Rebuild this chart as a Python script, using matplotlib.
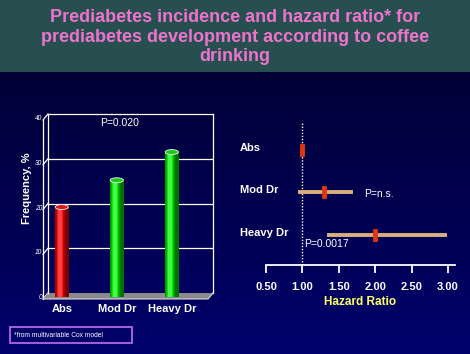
import numpy as np
import matplotlib
matplotlib.use("Agg")
import matplotlib.pyplot as plt
from matplotlib.patches import Rectangle, Ellipse, Polygon

plt.rcParams['font.family'] = ['Liberation Sans', 'DejaVu Sans']

# ---- data ----
bar_categories = ["Abs", "Mod Dr", "Heavy Dr"]
bar_values = [19.2, 25.2, 31.5]
bar_colors = ["#e00000", "#00d000", "#00d000"]
bar_yticks = [0, 10, 20, 30, 40]

hr_categories = ["Abs", "Mod Dr", "Heavy Dr"]
hr_point = [1.0, 1.3, 2.0]
hr_low = [1.0, 0.94, 1.34]
hr_high = [1.0, 1.69, 2.98]
hr_xticks = [0.5, 1.0, 1.5, 2.0, 2.5, 3.0]
hr_xticklabels = ["0.50", "1.00", "1.50", "2.00", "2.50", "3.00"]

W, H = 470, 354
fig = plt.figure(figsize=(W / 100, H / 100), dpi=100)

def fx(x):
    return x / W

def fy(y):
    return 1 - y / H

# ---- background ----
bg = fig.add_axes([0, 0, 1, 1], zorder=-10)
bg.set_xlim(0, W)
bg.set_ylim(H, 0)
bg.axis("off")
grad = np.linspace(0, 1, 256).reshape(-1, 1)
c0 = np.array([0x00, 0x00, 0x36]) / 255
c1 = np.array([0x00, 0x00, 0x6c]) / 255
img = c0 + (c1 - c0) * grad[..., None]
img = np.repeat(img, 2, axis=1)
bg.imshow(img, extent=[0, W, H, 72], aspect="auto", interpolation="bilinear")
bg.add_patch(Rectangle((0, 0), W, 72, color="#274f4f", lw=0))
bg.set_xlim(0, W)
bg.set_ylim(H, 0)

fig.text(0.5, fy(37), "Prediabetes incidence and hazard ratio* for\nprediabetes development according to coffee\ndrinking",
         ha="center", va="center", color="#ec74cc", fontsize=13, fontweight="bold", linespacing=1.22)

# footnote box
bg.add_patch(Rectangle((10, 327), 122, 16, fill=False, ec="#c070f0", lw=1.2))
bg.text(14, 335.5, "*from multivariable Cox model", color="white", fontsize=4.8, va="center", ha="left")

# ---- bar chart ----
ax1 = fig.add_axes([fx(48), fy(293), 165 / W, 179 / H])
ax1.set_xlim(-0.25, 2.75)
ax1.set_ylim(0, 40)
ax1.patch.set_alpha(0)
for s in ["top", "right", "left"]:
    ax1.spines[s].set_color("white")
    ax1.spines[s].set_linewidth(0.9)
ax1.spines["bottom"].set_visible(False)
ax1.set_xticks([])
ax1.set_yticks([])

dx, dy = -0.09, -1.34
for v in bar_yticks:
    if 0 < v < 40:
        ax1.plot([-0.25, 2.75], [v, v], color="white", lw=0.9, zorder=1)
    ax1.plot([-0.25 + dx, -0.25], [v + dy, v], color="white", lw=0.9, clip_on=False, zorder=1)
    ax1.text(-0.25 + dx - 0.02, v + dy + 0.3, str(v), color="white", fontsize=4.8,
             ha="right", va="center", fontstyle="italic")
ax1.plot([-0.25 + dx, -0.25 + dx], [dy, 40 + dy], color="white", lw=0.9, clip_on=False)

floor = Polygon([(-0.25, 0), (2.75, 0), (2.75 + dx, dy), (-0.25 + dx, dy)], closed=True,
                fc="#8a8a8a", ec="none", clip_on=False, zorder=2)
ax1.add_patch(floor)
ax1.plot([-0.25 + dx, 2.75 + dx, 2.75], [dy, dy, 0], color="#d8d8d8", lw=0.8, clip_on=False, zorder=2)

xs = np.arange(len(bar_categories))
bw = 0.24
base = -1.0
bars = ax1.bar(xs, [v - base for v in bar_values], bottom=base, width=bw,
               color=bar_colors, zorder=3, clip_on=False)
g = np.linspace(0, 1, 64)
shade = 0.55 + 0.55 * np.sin(np.clip(g * 1.25 + 0.05, 0, 1) * np.pi) ** 0.8
shade = np.clip(shade, 0, 1.15)
for b, col, v in zip(bars, bar_colors, bar_values):
    rgb = np.array(matplotlib.colors.to_rgb(col))
    row = np.clip(rgb[None, :] * shade[:, None] + (shade[:, None] > 1.0) * 0.25, 0, 1)
    im = ax1.imshow(row[None, :, :], extent=[b.get_x(), b.get_x() + bw, base, v],
                    aspect="auto", zorder=3.5, clip_on=False)
    im.set_clip_path(b)
    b.set_facecolor("none")
    top_col = np.clip(rgb * 0.85 + 0.1, 0, 1)
    ax1.add_patch(Ellipse((b.get_x() + bw / 2, v), bw, 1.1, fc=top_col, ec="#f0f0f0",
                          lw=0.6, zorder=4, clip_on=False))

for x, lab in zip(xs, bar_categories):
    ax1.text(x, -3.6, lab, color="white", fontsize=8, fontweight="bold", ha="center", va="center")

ax1.text(1.05, 38.0, "P=0.020", color="white", fontsize=7.5, ha="center", va="center")
fig.text(fx(27), fy(188), "Frequency, %", rotation=90, color="white", fontsize=8,
         fontweight="bold", ha="center", va="center")

# ---- forest plot ----
ax2 = fig.add_axes([fx(266), fy(265), 189 / W, 150 / H])
ax2.patch.set_alpha(0)
ax2.set_xlim(0.5, 0.5 + 189 / 72.8)
ax2.set_ylim(-0.706, 2.82)
for s in ["top", "right", "left"]:
    ax2.spines[s].set_visible(False)
ax2.spines["bottom"].set_color("white")
ax2.spines["bottom"].set_linewidth(1.3)
ax2.set_yticks([])
ax2.set_xticks(hr_xticks)
ax2.set_xticklabels(hr_xticklabels)
ax2.tick_params(axis="x", colors="white", direction="out", length=6, width=1.3, pad=6,
                labelsize=8)
for t in ax2.get_xticklabels():
    t.set_fontweight("bold")
ax2.set_xlabel("Hazard Ratio", color="#ffff66", fontsize=8.5, fontweight="bold", labelpad=3)

ys = [2, 1, 0]
ax2.plot([1.0, 1.0], [-0.706, 2.66], color="white", lw=1, ls=(0, (1, 1.2)), zorder=1)
ax2.hlines(ys, hr_low, hr_high, color="#d8b07c", lw=2.8, zorder=2)
rect = [(-0.17, -0.5), (0.17, -0.5), (0.17, 0.5), (-0.17, 0.5), (-0.17, -0.5)]
ax2.plot(hr_point, ys, ls="none", marker=rect, markersize=9.3, color="#e2350f",
         markeredgewidth=0.6, markeredgecolor="#e2350f", zorder=3)

tr = matplotlib.transforms.blended_transform_factory(ax2.transAxes, ax2.transData)
for y, lab in zip(ys, hr_categories):
    ax2.text(-0.1376, y + 0.05, lab, transform=tr, color="white", fontsize=8,
             fontweight="bold", ha="left", va="center")

ax2.text(1.85, 0.96, "P=n.s.", color="white", fontsize=7.5, ha="left", va="center")
ax2.text(1.03, -0.22, "P=0.0017", color="white", fontsize=7.5, ha="left", va="center")

fig.savefig("out.png", dpi=100, facecolor="#000040")
